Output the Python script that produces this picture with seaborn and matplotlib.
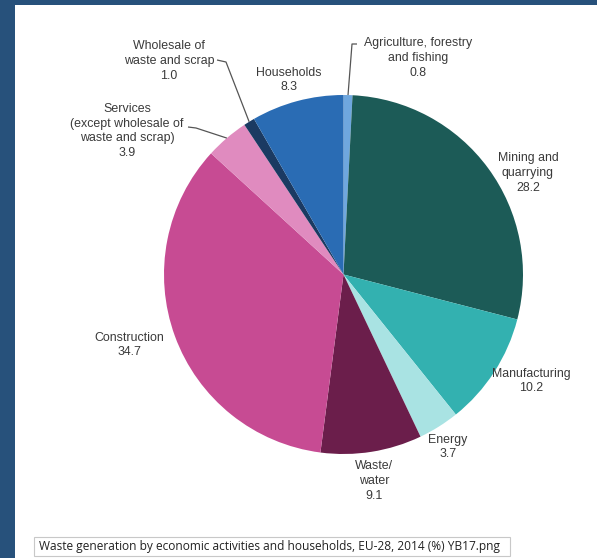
import numpy as np
import matplotlib
matplotlib.use("Agg")
import matplotlib.pyplot as plt
from matplotlib.patches import Rectangle
import seaborn as sns

sns.set_theme(style="white")
plt.rcParams["font.family"] = ["Liberation Sans", "DejaVu Sans"]

# Waste generation by economic activities and households, EU-28, 2014 (%)
categories = [
    "Agriculture, forestry\nand fishing",
    "Mining and\nquarrying",
    "Manufacturing",
    "Energy",
    "Waste/\nwater",
    "Construction",
    "Services\n(except wholesale of\nwaste and scrap)",
    "Wholesale of\nwaste and scrap",
    "Households",
]
shares = [0.8, 28.2, 10.2, 3.7, 9.1, 34.7, 3.9, 1.0, 8.3]
colors = ["#6fa7de", "#1c5b57", "#33b1b0", "#a9e3e3", "#6b1e4b",
          "#c74b93", "#e08bbf", "#1b3a62", "#2a6cb4"]

W, H = 597, 558
fig = plt.figure(figsize=(W / 100, H / 100), dpi=100)
fig.patch.set_facecolor("#27517b")
ax = fig.add_axes([0, 0, 1, 1])


def py(y):
    """Convert a top-down pixel row into the axes' bottom-up y."""
    return H - y


# white panel
ax.add_patch(Rectangle((15, 0), W - 15, H - 5, facecolor="white",
                       edgecolor="none", zorder=0))

cx, cy, r = 343.5, py(274.5), 179.5
wedges, _ = ax.pie(shares, colors=colors, startangle=90, counterclock=False,
                   center=(cx, cy), radius=r, frame=True,
                   wedgeprops=dict(linewidth=0))
ax.set_xlim(0, W)
ax.set_ylim(0, H)
ax.set_axis_off()

# label anchor (text centre) for each slice, in pixel rows from the top
label_pos = {
    0: (418, 58),
    1: (528, 173),
    2: (531, 381),
    3: (448, 447),
    4: (374, 481),
    5: (129, 345),
    6: (127, 131),
    7: (169, 61),
    8: (289, 80),
}
txt_kw = dict(ha="center", va="center", fontsize=8.9, color="#3a3a3a",
              linespacing=1.3, zorder=5)
for i, (lab, val) in enumerate(zip(categories, shares)):
    x, y = label_pos[i]
    ax.text(x, py(y), f"{lab}\n{val:.1f}", **txt_kw)


def mid_point(w):
    ang = np.deg2rad((w.theta1 + w.theta2) / 2)
    return cx + r * np.cos(ang), cy + r * np.sin(ang)


# leader lines for the small slices
lk = dict(color="#555555", lw=0.9, zorder=4, solid_capstyle="butt")
ex, ey = mid_point(wedges[0])
ax.plot([357, 352, ex], [py(44), py(44), ey], **lk)
ex, ey = mid_point(wedges[7])
ax.plot([217, 226, ex], [py(60), py(62), ey], **lk)
ex, ey = mid_point(wedges[6])
ax.plot([188, 196, ex], [py(127), py(128), ey], **lk)

# caption box
ax.add_patch(Rectangle((34, py(556)), 476, 19, facecolor="white",
                       edgecolor="#c8c8c8", lw=0.8, zorder=3))
ax.text(39, py(546.5), "Waste generation by economic activities and households, "
        "EU-28, 2014 (%) YB17.png", ha="left", va="center", fontsize=8.6,
        color="#222222", family=["Open Sans", "DejaVu Sans"], zorder=5)

fig.savefig("out.png", dpi=100, facecolor=fig.get_facecolor())
